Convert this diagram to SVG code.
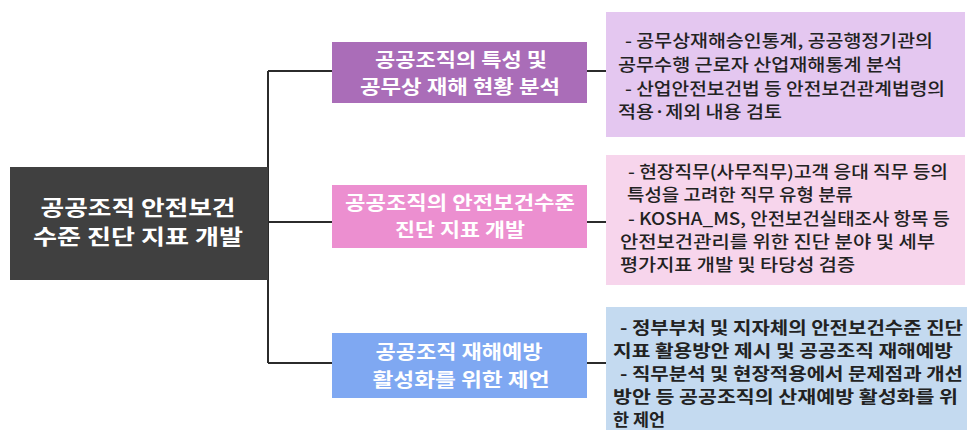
<svg xmlns="http://www.w3.org/2000/svg" width="967" height="430" viewBox="0 0 967 430">
<style>
text{font-family:"Noto Sans CJK KR","Noto Sans",sans-serif}
.main{fill:#fff;font-size:21px;font-weight:700;text-anchor:middle}
.mid{fill:#fff;font-size:19px;font-weight:700;text-anchor:middle}
.det{fill:#222;font-size:17px;font-weight:500}
.b{font-weight:700}
.con{stroke:#2b2b2b;stroke-width:2;fill:none}
</style>
<rect width="967" height="430" fill="#fff"/>
<g id="connectors">
<path class="con" d="M268 71V363"/>
<path class="con" d="M268 71H332M268 222H332M268 363H332"/>
<path class="con" d="M587 71H606M587 222H606M587 363H606"/>
</g>
<g id="main">
<rect x="10" y="167" width="258" height="113" fill="#404040"/>
<text class="main" x="138" y="215" textLength="195" lengthAdjust="spacingAndGlyphs">공공조직 안전보건</text>
<text class="main" x="138" y="244" textLength="210" lengthAdjust="spacingAndGlyphs">수준 진단 지표 개발</text>
</g>
<g id="mid1">
<rect x="332" y="42" width="255" height="61" fill="#aa6db8"/>
<text class="mid" x="461" y="67" textLength="172" lengthAdjust="spacingAndGlyphs">공공조직의 특성 및</text>
<text class="mid" x="460" y="94" textLength="200" lengthAdjust="spacingAndGlyphs">공무상 재해 현황 분석</text>
</g>
<g id="mid2">
<rect x="332" y="185" width="255" height="63" fill="#ec8fd0"/>
<text class="mid" x="460" y="210" textLength="230" lengthAdjust="spacingAndGlyphs">공공조직의 안전보건수준</text>
<text class="mid" x="460" y="237" textLength="130" lengthAdjust="spacingAndGlyphs">진단 지표 개발</text>
</g>
<g id="mid3">
<rect x="332" y="333" width="255" height="65" fill="#7fa8f2"/>
<text class="mid" x="459" y="359" textLength="167" lengthAdjust="spacingAndGlyphs">공공조직 재해예방</text>
<text class="mid" x="461" y="387" textLength="177" lengthAdjust="spacingAndGlyphs">활성화를 위한 제언</text>
</g>
<g id="detail1">
<rect x="606" y="12" width="359" height="125" fill="#e4c7f0"/>
<text class="det" x="625" y="47" textLength="308" lengthAdjust="spacingAndGlyphs">- 공무상재해승인통계, 공공행정기관의</text>
<text class="det" x="618" y="71" textLength="284" lengthAdjust="spacingAndGlyphs">공무수행 근로자 산업재해통계 분석</text>
<text class="det" x="625" y="95" textLength="320" lengthAdjust="spacingAndGlyphs">- 산업안전보건법 등 안전보건관계법령의</text>
<text class="det" x="618" y="118" textLength="164" lengthAdjust="spacingAndGlyphs">적용·제외 내용 검토</text>
</g>
<g id="detail2">
<rect x="606" y="155" width="359" height="130" fill="#f7d5ec"/>
<text class="det" x="628" y="178" textLength="320" lengthAdjust="spacingAndGlyphs">- 현장직무(사무직무)고객 응대 직무 등의</text>
<text class="det" x="627" y="201" textLength="226" lengthAdjust="spacingAndGlyphs">특성을 고려한 직무 유형 분류</text>
<text class="det" x="628" y="224.5" textLength="322" lengthAdjust="spacingAndGlyphs">- KOSHA_MS, 안전보건실태조사 항목 등</text>
<text class="det" x="620" y="247.5" textLength="315" lengthAdjust="spacingAndGlyphs">안전보건관리를 위한 진단 분야 및 세부</text>
<text class="det" x="620" y="270.5" textLength="235" lengthAdjust="spacingAndGlyphs">평가지표 개발 및 타당성 검증</text>
</g>
<g id="detail3">
<rect x="606" y="307" width="361" height="123" fill="#c4daf0"/>
<text class="det b" x="620" y="334" textLength="343" lengthAdjust="spacingAndGlyphs">- 정부부처 및 지자체의 안전보건수준 진단</text>
<text class="det b" x="613" y="357" textLength="340" lengthAdjust="spacingAndGlyphs">지표 활용방안 제시 및 공공조직 재해예방</text>
<text class="det b" x="620" y="380" textLength="343" lengthAdjust="spacingAndGlyphs">- 직무분석 및 현장적용에서 문제점과 개선</text>
<text class="det b" x="613" y="403" textLength="345" lengthAdjust="spacingAndGlyphs">방안 등 공공조직의 산재예방 활성화를 위</text>
<text class="det b" x="613" y="426" textLength="52" lengthAdjust="spacingAndGlyphs">한 제언</text>
</g>
</svg>
